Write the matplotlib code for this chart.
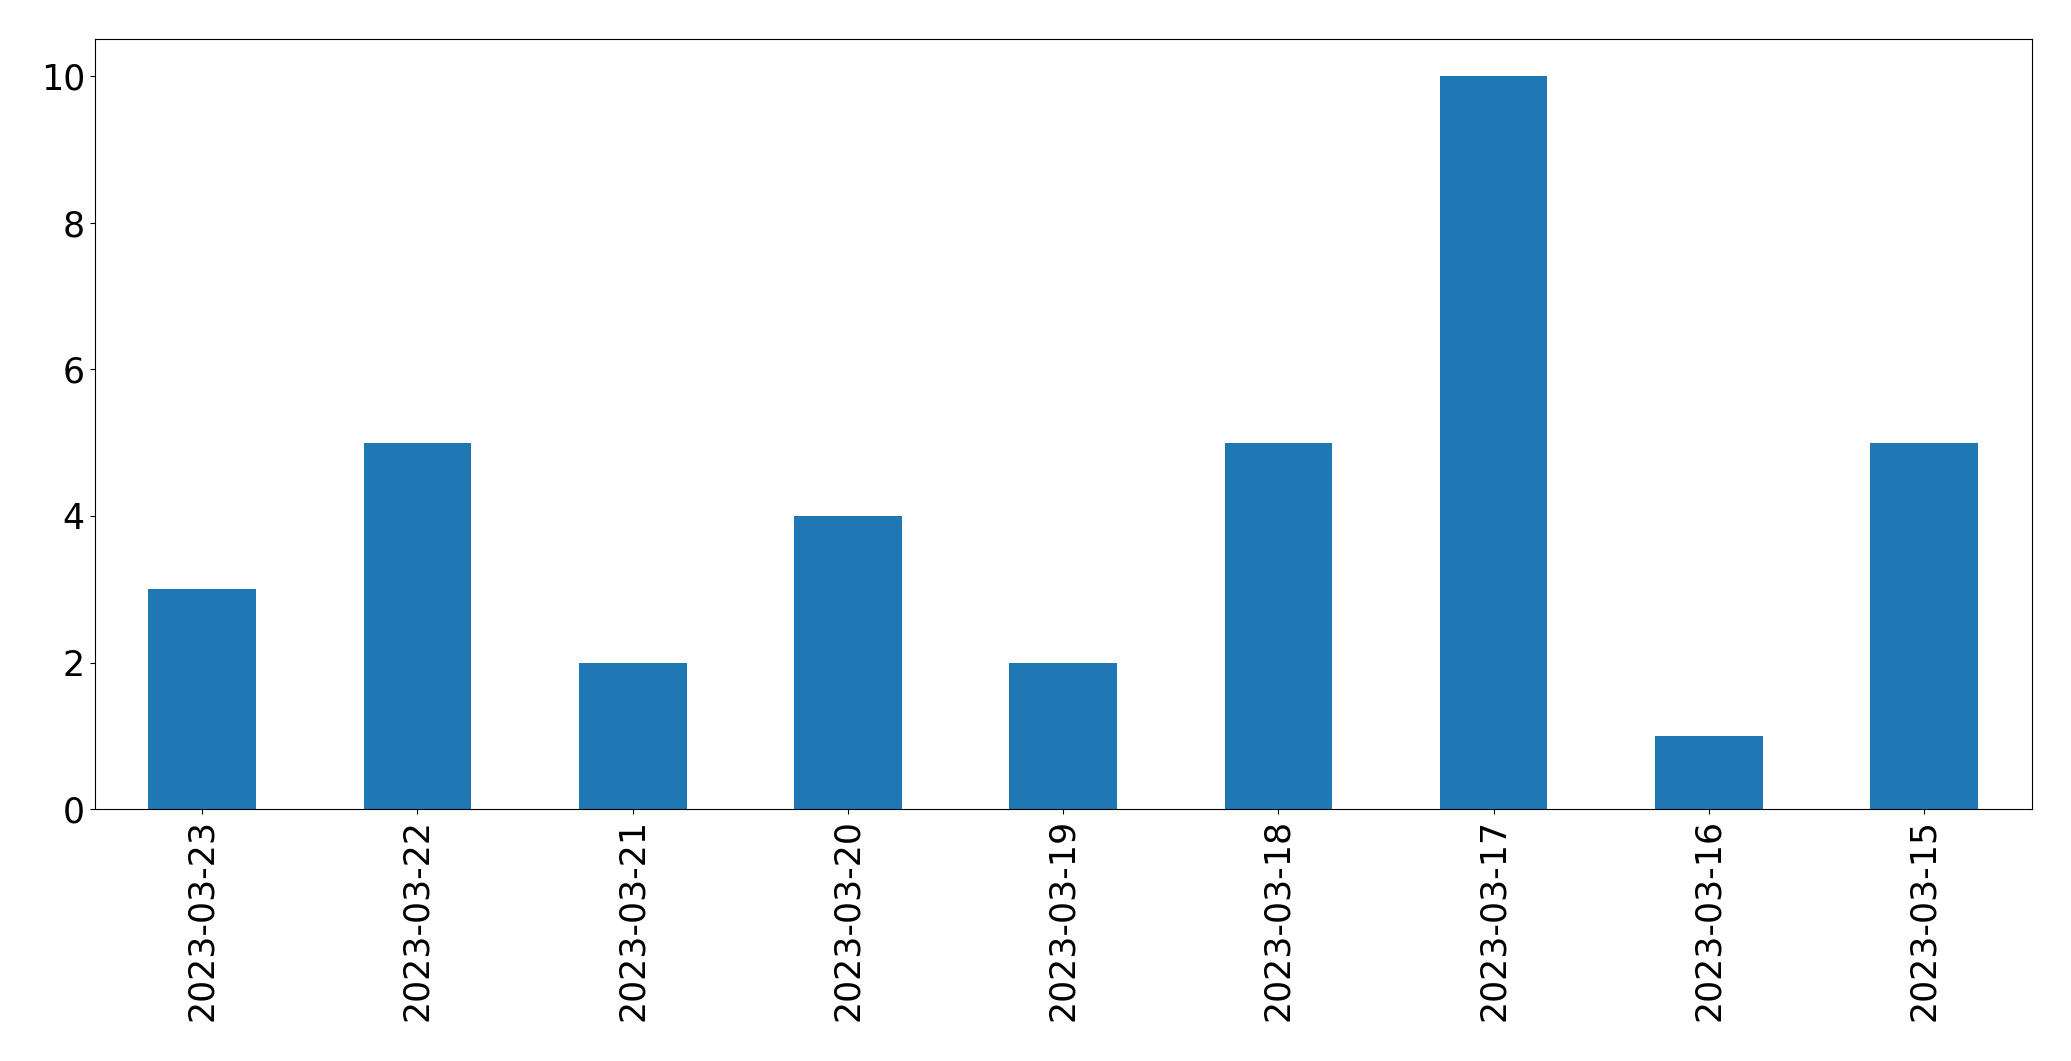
import matplotlib
matplotlib.use("Agg")
import matplotlib.pyplot as plt

dates = ["2023-03-23", "2023-03-22", "2023-03-21", "2023-03-20", "2023-03-19",
         "2023-03-18", "2023-03-17", "2023-03-16", "2023-03-15"]
counts = [3, 5, 2, 4, 2, 5, 10, 1, 5]

fig, ax = plt.subplots(figsize=(20.71, 10.61), dpi=100)
x = list(range(len(dates)))
ax.bar(x, counts, width=0.5, color="#1f77b4")
ax.set_xlim(-0.5, len(dates) - 0.5)
ax.set_ylim(0, 10.5)
ax.set_xticks(x)
ax.set_xticklabels(dates, rotation=90)
ax.tick_params(axis="both", labelsize=25)
fig.subplots_adjust(left=0.0457, right=0.981, top=0.963, bottom=0.2372)
fig.savefig("out.png", dpi=100)
